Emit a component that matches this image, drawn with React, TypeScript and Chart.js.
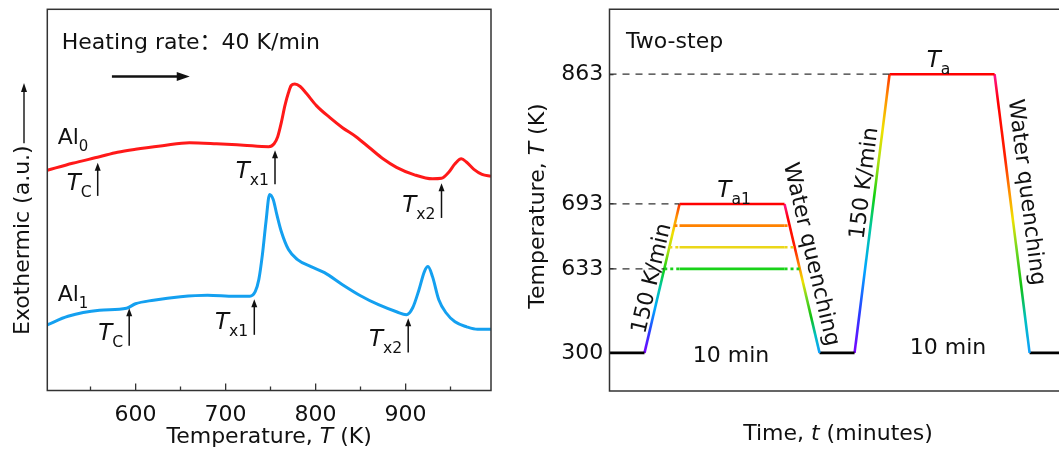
import React, { useEffect, useRef } from 'react';
import { Chart, registerables } from 'chart.js';

Chart.register(...registerables);

const FONT_FAMILY = '"DejaVu Sans", "Noto Sans CJK SC", sans-serif';
const TEXT = '#111';
const AXIS = '#333';
const RED = 'rgb(255, 25, 25)';
const BLUE = 'rgb(20, 160, 240)';
const SUB = 0.68;

// ---------------- Left panel: DSC curves ----------------
const al0Temps = [502, 530, 560, 580, 600, 630, 660, 690, 720, 748, 754, 758, 762, 766, 770, 773, 777, 783, 790, 801, 816, 830, 845, 860, 875, 890, 910, 930, 940, 948, 955, 962, 968, 976, 985, 995];
const al0Signal = [21.95, 22.65, 23.3, 23.75, 24.05, 24.4, 24.7, 24.6, 24.45, 24.3, 24.6, 25.3, 26.7, 28.4, 29.7, 30.4, 30.55, 30.3, 29.6, 28.4, 27.2, 26.2, 25.3, 24.2, 23.1, 22.25, 21.5, 21.1, 21.15, 21.75, 22.6, 23.1, 22.75, 22.05, 21.55, 21.35];

const al1Temps = [502, 525, 560, 590, 600, 620, 650, 680, 710, 727, 733, 737, 741, 745, 749, 753, 757, 762, 770, 780, 795, 810, 830, 850, 870, 890, 901, 908, 915, 921, 925, 930, 937, 945, 955, 968, 980, 995];
const al1Signal = [6.55, 7.4, 8.0, 8.2, 8.65, 9.0, 9.35, 9.5, 9.4, 9.4, 9.85, 11.05, 13.55, 16.85, 19.55, 19.05, 17.55, 15.85, 14.05, 13.05, 12.35, 11.75, 10.55, 9.45, 8.55, 7.85, 7.55, 8.25, 10.05, 11.85, 12.35, 11.35, 9.05, 7.75, 6.85, 6.35, 6.1, 6.1];

const xMajorTicks = [600, 700, 800, 900];
const xMinorTicks = [550, 650, 750, 850, 950];

const sampleNames = ['Al', 'Al'];
const sampleSubs = ['0', '1'];
const sampleLabelT = [513.5, 513.5];
const sampleLabelV = [24.55, 8.9];

const markerSubs = ['C', 'x1', 'x2', 'C', 'x1', 'x2'];
const markerTemps = [558, 755, 940, 593, 732, 903];
const markerTail = [19.4, 20.55, 17.2, 4.45, 5.55, 3.8];
const markerTip = [22.7, 23.95, 20.65, 8.2, 9.1, 7.2];

const heatingText = 'Heating rate：40 K/min';
const heatingTextPos = [518, 34.05];
const heatingArrow = [573.8, 660.3, 31.3];

// ---------------- Right panel: annealing schedule ----------------
const stepTimes = [0, 10, 20, 50, 60, 70, 80, 110, 120, 128.4];
const stepTemps = [300, 300, 693, 693, 300, 300, 863, 863, 300, 300];
const axisTemps = [300, 633, 693, 863];
const axisLevels = [10, 32, 49, 83];
const isoTemps = [673, 653, 633];
const isoColors = ['rgb(255,130,0)', 'rgb(235,215,25)', 'rgb(25,210,25)'];
const guideTemps = [863, 693, 633];

const heatStops: [number, string][] = [
  [0, '#7a00ff'], [0.14, '#2a3cff'], [0.3, '#00a8ff'], [0.45, '#00c8a0'], [0.56, '#10d010'],
  [0.68, '#a8e010'], [0.8, '#f0e000'], [0.92, '#ff8c00'], [1, '#ff3000'],
];
const quenchStops: [number, string][] = [
  [0, '#ff1493'], [0.1, '#ff0000'], [0.3, '#ff2000'], [0.42, '#ff8c00'], [0.52, '#f0e000'],
  [0.63, '#70d820'], [0.76, '#10c010'], [0.88, '#00c0c0'], [1, '#10a0ff'],
];

function levelOf(T: number) {
  for (let i = 0; i < axisTemps.length - 1; i++) {
    if (T <= axisTemps[i + 1] || i === axisTemps.length - 2) {
      const f = (T - axisTemps[i]) / (axisTemps[i + 1] - axisTemps[i]);
      return axisLevels[i] + f * (axisLevels[i + 1] - axisLevels[i]);
    }
  }
  return axisLevels[0];
}

// time where segment i (stepTimes[i] -> stepTimes[i+1]) crosses temperature T
function crossTime(i: number, T: number) {
  const l0 = levelOf(stepTemps[i]);
  const l1 = levelOf(stepTemps[i + 1]);
  const f = (levelOf(T) - l0) / (l1 - l0);
  return stepTimes[i] + f * (stepTimes[i + 1] - stepTimes[i]);
}

// ---------------- text helpers ----------------
type Part = { t: string; it?: boolean; sub?: boolean };

function font(size: number, italic = false) {
  return `${italic ? 'italic ' : ''}${size}px ${FONT_FAMILY}`;
}

function measureRich(ctx: CanvasRenderingContext2D, parts: Part[], size: number) {
  let w = 0;
  for (const p of parts) {
    ctx.font = font(p.sub ? size * SUB : size, p.it);
    w += ctx.measureText(p.t).width;
  }
  return w;
}

function drawRich(ctx: CanvasRenderingContext2D, parts: Part[], x: number, y: number, size: number,
  align: 'left' | 'center' | 'right' = 'left', color = TEXT) {
  const w = measureRich(ctx, parts, size);
  let cx = align === 'left' ? x : align === 'center' ? x - w / 2 : x - w;
  ctx.save();
  ctx.fillStyle = color;
  ctx.textAlign = 'left';
  ctx.textBaseline = 'alphabetic';
  for (const p of parts) {
    const s = p.sub ? size * SUB : size;
    ctx.font = font(s, p.it);
    ctx.fillText(p.t, cx, p.sub ? y + size * 0.3 : y);
    cx += ctx.measureText(p.t).width;
  }
  ctx.restore();
  return w;
}

function drawRotated(ctx: CanvasRenderingContext2D, parts: Part[], cx: number, cy: number, angle: number, size: number) {
  ctx.save();
  ctx.translate(cx, cy);
  ctx.rotate(angle);
  drawRich(ctx, parts, 0, size * 0.36, size, 'center');
  ctx.restore();
}

function arrow(ctx: CanvasRenderingContext2D, x1: number, y1: number, x2: number, y2: number,
  lw: number, hl: number, hw: number, color = TEXT) {
  const a = Math.atan2(y2 - y1, x2 - x1);
  ctx.save();
  ctx.strokeStyle = color;
  ctx.fillStyle = color;
  ctx.lineWidth = lw;
  ctx.beginPath();
  ctx.moveTo(x1, y1);
  ctx.lineTo(x2 - Math.cos(a) * hl * 0.7, y2 - Math.sin(a) * hl * 0.7);
  ctx.stroke();
  ctx.translate(x2, y2);
  ctx.rotate(a);
  ctx.beginPath();
  ctx.moveTo(0, 0);
  ctx.lineTo(-hl, -hw / 2);
  ctx.lineTo(-hl, hw / 2);
  ctx.closePath();
  ctx.fill();
  ctx.restore();
}

// ---------------- plugins ----------------
const leftPlugin = {
  id: 'leftDeco',
  afterDraw(chart: any) {
    const { ctx, chartArea: a } = chart;
    const x = chart.scales.x;
    const y = chart.scales.y;
    ctx.save();
    ctx.strokeStyle = AXIS;
    ctx.lineWidth = 1.5;
    ctx.strokeRect(a.left, a.top, a.right - a.left, a.bottom - a.top);
    ctx.beginPath();
    for (const v of xMinorTicks) {
      const px = x.getPixelForValue(v);
      ctx.moveTo(px, a.bottom);
      ctx.lineTo(px, a.bottom - 4);
    }
    ctx.lineWidth = 1.3;
    ctx.stroke();
    ctx.restore();

    // y title + arrow
    ctx.save();
    ctx.translate(a.left - 24.3, 335);
    ctx.rotate(-Math.PI / 2);
    ctx.font = font(22);
    ctx.fillStyle = TEXT;
    ctx.textAlign = 'left';
    ctx.textBaseline = 'middle';
    const title = 'Exothermic (a.u.)';
    ctx.fillText(title, 0, 0);
    const tw = ctx.measureText(title).width;
    ctx.restore();
    arrow(ctx, a.left - 23.3, 335 - tw - 2, a.left - 23.3, 83, 1.4, 9, 6);

    // x title
    drawRich(ctx, [{ t: 'Temperature, ' }, { t: 'T', it: true }, { t: ' (K)' }],
      (a.left + a.right) / 2, 443, 22, 'center');

    // heating rate
    drawRich(ctx, [{ t: heatingText }], x.getPixelForValue(heatingTextPos[0]),
      y.getPixelForValue(heatingTextPos[1]), 22, 'left');
    arrow(ctx, x.getPixelForValue(heatingArrow[0]), y.getPixelForValue(heatingArrow[2]),
      x.getPixelForValue(heatingArrow[1]), y.getPixelForValue(heatingArrow[2]), 2.6, 13, 9);

    // sample labels
    sampleNames.forEach((n, i) => {
      drawRich(ctx, [{ t: n }, { t: sampleSubs[i], sub: true }],
        x.getPixelForValue(sampleLabelT[i]), y.getPixelForValue(sampleLabelV[i]), 22, 'left');
    });

    // characteristic temperature markers
    markerSubs.forEach((s, i) => {
      const px = x.getPixelForValue(markerTemps[i]);
      const tail = y.getPixelForValue(markerTail[i]);
      const tip = y.getPixelForValue(markerTip[i]);
      arrow(ctx, px, tail, px, tip, 1.5, 8, 6);
      drawRich(ctx, [{ t: 'T', it: true }, { t: s, sub: true }], px - 6, tail - 6, 23, 'right');
    });
  },
};

const rightPlugin = {
  id: 'rightDeco',
  afterDraw(chart: any) {
    const { ctx, chartArea: a } = chart;
    const x = chart.scales.x;
    const y = chart.scales.y;
    ctx.save();
    ctx.strokeStyle = AXIS;
    ctx.lineWidth = 1.5;
    ctx.beginPath();
    ctx.moveTo(chart.width + 2, a.top);
    ctx.lineTo(a.left, a.top);
    ctx.lineTo(a.left, a.bottom);
    ctx.lineTo(chart.width + 2, a.bottom);
    ctx.stroke();
    ctx.restore();

    const P = (t: number, L: number) => [x.getPixelForValue(t), y.getPixelForValue(L)];

    // titles
    ctx.save();
    ctx.translate(a.left - 73.5, 206);
    ctx.rotate(-Math.PI / 2);
    drawRich(ctx, [{ t: 'Temperature, ' }, { t: 'T', it: true }, { t: ' (K)' }], 0, 8, 22, 'center');
    ctx.restore();
    drawRich(ctx, [{ t: 'Time, ' }, { t: 't', it: true }, { t: ' (minutes)' }], 333, 440, 22, 'center');

    let p = P(4.7, 89.9);
    drawRich(ctx, [{ t: 'Two-step' }], p[0], p[1], 22, 'left');
    p = P(94, 84.9);
    drawRich(ctx, [{ t: 'T', it: true }, { t: 'a', sub: true }], p[0], p[1], 23, 'center');
    p = P(35.6, 50.8);
    drawRich(ctx, [{ t: 'T', it: true }, { t: 'a1', sub: true }], p[0], p[1], 23, 'center');
    p = P(34.7, 7.6);
    drawRich(ctx, [{ t: '10 min' }], p[0], p[1], 22, 'center');
    p = P(96.7, 9.7);
    drawRich(ctx, [{ t: '10 min' }], p[0], p[1], 22, 'center');

    const segAngle = (i: number) => {
      const a0 = P(stepTimes[i], levelOf(stepTemps[i]));
      const a1 = P(stepTimes[i + 1], levelOf(stepTemps[i + 1]));
      return Math.atan2(a1[1] - a0[1], a1[0] - a0[0]);
    };
    // ramps: segments 1 and 5 ; quenches: 3 and 7
    p = P(11.6, 29.6);
    drawRotated(ctx, [{ t: '150 K/min' }], p[0], p[1], segAngle(1), 22);
    p = P(72.3, 54.5);
    drawRotated(ctx, [{ t: '150 K/min' }], p[0], p[1], segAngle(5), 22);
    p = P(58.1, 35.9);
    drawRotated(ctx, [{ t: 'Water quenching' }], p[0], p[1], segAngle(3), 22);
    p = P(119.6, 52.1);
    drawRotated(ctx, [{ t: 'Water quenching' }], p[0], p[1], segAngle(7), 22);
  },
};

// ---------------- configs ----------------
function leftConfig(): any {
  return {
    type: 'line',
    data: {
      datasets: [
        {
          data: al0Temps.map((t, i) => ({ x: t, y: al0Signal[i] })),
          borderColor: RED, borderWidth: 3, pointRadius: 0, cubicInterpolationMode: 'monotone',
        },
        {
          data: al1Temps.map((t, i) => ({ x: t, y: al1Signal[i] })),
          borderColor: BLUE, borderWidth: 3, pointRadius: 0, cubicInterpolationMode: 'monotone',
        },
      ],
    },
    options: {
      animation: false,
      responsive: false,
      devicePixelRatio: 1,
      layout: { padding: { top: 9.3, right: 14, left: 0, bottom: 0 } },
      plugins: { legend: { display: false }, tooltip: { enabled: false } },
      scales: {
        x: {
          type: 'linear', min: 502, max: 995,
          afterBuildTicks: (s: any) => { s.ticks = xMajorTicks.map((v) => ({ value: v })); },
          afterFit: (s: any) => { s.height = 58.5; s.paddingLeft = 0; s.paddingRight = 0; },
          grid: { display: true, drawOnChartArea: false, drawTicks: true, tickLength: -7, color: AXIS, lineWidth: 1.3 },
          border: { display: false },
          ticks: { font: { family: FONT_FAMILY, size: 22 }, color: TEXT, padding: 19, maxRotation: 0, autoSkip: false },
        },
        y: {
          type: 'linear', min: 0, max: 38,
          afterFit: (s: any) => { s.width = 47.3; s.paddingTop = 0; s.paddingBottom = 0; },
          ticks: { display: false },
          grid: { display: false },
          border: { display: false },
        },
      },
    },
    plugins: [leftPlugin],
  };
}

function gradientColor(stops: [number, string][], rising: boolean, topT: number) {
  return (c: any) => {
    const ch = c.chart;
    const ys = ch.scales && ch.scales.y;
    if (!ys || !ch.chartArea) return '#000';
    const yTop = ys.getPixelForValue(levelOf(topT));
    const yBot = ys.getPixelForValue(levelOf(300));
    const g = rising
      ? ch.ctx.createLinearGradient(0, yBot, 0, yTop)
      : ch.ctx.createLinearGradient(0, yTop, 0, yBot);
    stops.forEach(([o, col]) => g.addColorStop(o, col));
    return g;
  };
}

function rightConfig(): any {
  const datasets: any[] = [];
  // guides (dashed, from axis to ramp)
  guideTemps.forEach((T) => {
    const seg = T > 693 ? 5 : 1;
    const tEnd = crossTime(seg, T);
    datasets.push({
      data: [{ x: stepTimes[0], y: levelOf(T) }, { x: tEnd, y: levelOf(T) }],
      borderColor: AXIS, borderWidth: 1.3, borderDash: [7, 6], pointRadius: 0,
    });
  });
  // intermediate annealing levels
  isoTemps.forEach((T, k) => {
    const L = levelOf(T);
    datasets.push({
      data: [
        { x: crossTime(1, T), y: L }, { x: stepTimes[2], y: L },
        { x: stepTimes[3], y: L }, { x: crossTime(3, T), y: L },
      ],
      borderColor: isoColors[k], borderWidth: 2.6, pointRadius: 0,
      segment: { borderDash: (s: any) => (s.p0DataIndex === 1 ? undefined : [3, 3]) },
    });
  });
  // schedule segments
  for (let i = 0; i < stepTimes.length - 1; i++) {
    const T0 = stepTemps[i];
    const T1 = stepTemps[i + 1];
    let color: any;
    if (T0 === T1) color = T0 === 300 ? '#000' : 'rgb(255,0,0)';
    else if (T1 > T0) color = gradientColor(heatStops, true, T1);
    else color = gradientColor(quenchStops, false, T0);
    datasets.push({
      data: [{ x: stepTimes[i], y: levelOf(T0) }, { x: stepTimes[i + 1], y: levelOf(T1) }],
      borderColor: color, borderWidth: 2.6, pointRadius: 0,
    });
  }
  return {
    type: 'line',
    data: { datasets },
    options: {
      animation: false,
      responsive: false,
      devicePixelRatio: 1,
      layout: { padding: { top: 9.3, right: 0, left: 0, bottom: 0 } },
      plugins: { legend: { display: false }, tooltip: { enabled: false } },
      scales: {
        x: {
          type: 'linear', min: stepTimes[0], max: stepTimes[stepTimes.length - 1],
          afterFit: (s: any) => { s.height = 58; s.paddingLeft = 0; s.paddingRight = 0; },
          ticks: { display: false },
          grid: { display: false },
          border: { display: false },
        },
        y: {
          type: 'linear', min: 0, max: 100,
          afterBuildTicks: (s: any) => { s.ticks = axisLevels.map((v) => ({ value: v })); },
          afterFit: (s: any) => { s.width = 104.5; s.paddingTop = 0; s.paddingBottom = 0; },
          ticks: {
            font: { family: FONT_FAMILY, size: 22 }, color: TEXT, padding: 10.2, autoSkip: false,
            callback: (_v: any, idx: number) => String(axisTemps[idx]),
          },
          grid: { display: true, drawOnChartArea: false, drawTicks: true, tickLength: -4, color: AXIS, lineWidth: 1.3 },
          border: { display: false },
        },
      },
    },
    plugins: [rightPlugin],
  };
}

export default function App() {
  const leftRef = useRef<HTMLCanvasElement>(null);
  const rightRef = useRef<HTMLCanvasElement>(null);
  useEffect(() => {
    const c1 = new Chart(leftRef.current as HTMLCanvasElement, leftConfig());
    const c2 = new Chart(rightRef.current as HTMLCanvasElement, rightConfig());
    return () => {
      c1.destroy();
      c2.destroy();
    };
  }, []);
  return (
    <div style={{ position: 'absolute', left: 0, top: 0, width: 1059, height: 449, background: '#fff', overflow: 'hidden' }}>
      <canvas ref={leftRef} width={505} height={449}
        style={{ position: 'absolute', left: 0, top: 0, width: 505, height: 449 }} />
      <canvas ref={rightRef} width={554} height={449}
        style={{ position: 'absolute', left: 505, top: 0, width: 554, height: 449 }} />
    </div>
  );
}
